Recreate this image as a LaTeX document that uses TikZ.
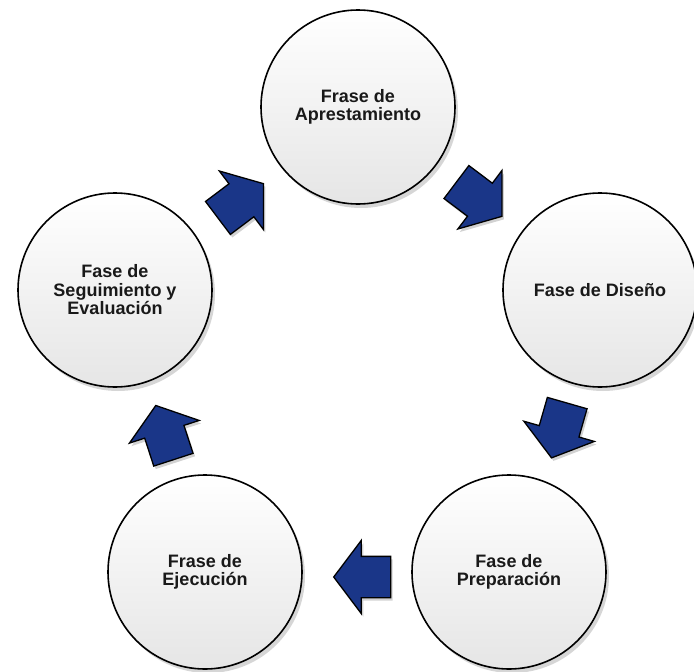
\documentclass[tikz,border=0pt]{standalone}
\usepackage{fontspec}
\setmainfont{Liberation Sans}
\usetikzlibrary{shapes.arrows,shadows,calc}
\definecolor{cycleblue}{RGB}{26,54,136}

\begin{document}
\begin{tikzpicture}[
    x=1pt, y=-1pt,
    phase/.style={
        circle,
        draw=black,
        line width=1.6pt,
        top color=white,
        bottom color=gray!20,
        minimum size=194pt,
        inner sep=0pt,
        align=center,
        text=black!90,
        font=\fontsize{18}{18.5}\selectfont\bfseries,
        drop shadow={shadow xshift=3pt, shadow yshift=-4pt, fill=black!45, opacity=0.35}
    },
    turn/.style={
        single arrow,
        draw=black,
        line width=1.3pt,
        fill=cycleblue,
        inner xsep=0pt,
        inner ysep=20pt,
        minimum height=57pt,
        single arrow head extend=16pt,
        single arrow tip angle=106,
        drop shadow={shadow xshift=2pt, shadow yshift=-3pt, fill=black!50, opacity=0.35}
    }
]

\useasboundingbox[fill=white] (0,0) rectangle (694,672);

% Phases
\node[phase] (apr) at (358,107) {Frase de\\Aprestamiento};
\node[phase] (dis) at (600,290) {Fase de Diseño};
\node[phase] (pre) at (509,572) {Fase de\\Preparación};
\node[phase] (eje) at (205,572) {Frase de\\Ejecución};
\node[phase] (seg) at (115,290) {Fase de\\Seguimiento y\\Evaluación};

% Arrows between phases
\node[turn, rotate=37] (a1) at ($(seg)!0.5!(apr)+(-2,7)$) {};
\node[turn, rotate=-37] (a2) at ($(apr)!0.5!(dis)+(-6,-4)$) {};
\node[turn, rotate=-106] (a3) at ($(dis)!0.5!(pre)+(7,-8)$) {};
\node[turn, rotate=180] (a4) at ($(pre)!0.5!(eje)+(13,5)$) {};
\node[turn, rotate=108] (a5) at ($(eje)!0.5!(seg)+(7,9)$) {};

\end{tikzpicture}
\end{document}
